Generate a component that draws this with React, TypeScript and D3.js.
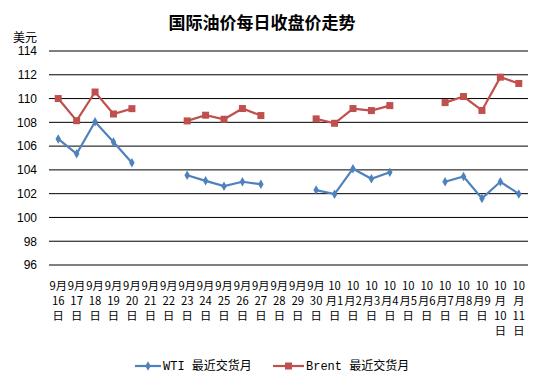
import React from 'react';
import * as d3 from 'd3';

// categories (month, day)
const months = [9, 9, 9, 9, 9, 9, 9, 9, 9, 9, 9, 9, 9, 9, 9, 10, 10, 10, 10, 10, 10, 10, 10, 10, 10, 10];
const days = [16, 17, 18, 19, 20, 21, 22, 23, 24, 25, 26, 27, 28, 29, 30, 1, 2, 3, 4, 5, 6, 7, 8, 9, 10, 11];

// closing prices, null = no trading
const wti = [106.6, 105.35, 108.05, 106.35, 104.6, null, null, 103.55, 103.08, 102.63, 103.0, 102.8, null, null,
  102.3, 101.96, 104.1, 103.25, 103.8, null, null, 103.0, 103.45, 101.6, 103.0, 101.98];
const brent = [110.0, 108.14, 110.55, 108.7, 109.15, null, null, 108.12, 108.6, 108.26, 109.16, 108.57, null, null,
  108.29, 107.92, 109.16, 108.99, 109.41, null, null, 109.66, 110.17, 109.0, 111.8, 111.27];

const yTicks = [96, 98, 100, 102, 104, 106, 108, 110, 112, 114];

const W = 544;
const H = 384;
const plot = { left: 49, right: 528, top: 51, bottom: 265 };

const BLUE = '#4F81BD';
const RED = '#C0504D';

const labelLines = (m: number, d: number) => {
  if (m === 9) return [`${m}月`, `${d}`, '日'];
  if (d < 10) return [`${m}`, `月${d}`, '日'];
  return [`${m}`, '月', `${d}`, '日'];
};

export default function App() {
  const idx = days.map((_, i) => i);
  const x = d3.scaleBand<number>().domain(idx).range([plot.left, plot.right]).paddingInner(0).paddingOuter(0);
  const y = d3.scaleLinear().domain([96, 114]).range([plot.bottom, plot.top]);
  const cx = (i: number) => (x(i) as number) + x.bandwidth() / 2;

  const line = d3.line<number | null>()
    .defined(v => v != null)
    .x((_, i) => cx(i))
    .y(v => y(v as number));

  const diamond = d3.symbol().type(d3.symbolDiamond).size(26)() as string;

  return (
    <svg width={W} height={H} style={{ position: 'absolute', left: 0, top: 0, background: '#fff' }}
      fontFamily="Arial, 'Liberation Sans', sans-serif">
      <text x={262} y={29} textAnchor="middle" fontSize={17} fontWeight="bold"
        fontFamily="'Noto Sans CJK SC', sans-serif">国际油价每日收盘价走势</text>
      <text x={13} y={42} fontSize={12} fontFamily="'Noto Sans CJK SC', sans-serif">美元</text>

      {yTicks.map(t => (
        <g key={t}>
          <line x1={plot.left} x2={plot.right} y1={y(t)} y2={y(t)} stroke="#000" strokeWidth={1} />
          <text x={37} y={y(t)} dy="0.36em" textAnchor="end" fontSize={12}>{t}</text>
        </g>
      ))}

      {idx.map(i => (
        <text key={i} x={cx(i)} textAnchor="middle" fontSize={11.3} fontFamily="'Noto Sans CJK SC', sans-serif">
          {labelLines(months[i], days[i]).map((s, k) => (
            <tspan key={k} x={cx(i)} y={290 + k * 15}>{s}</tspan>
          ))}
        </text>
      ))}

      <path d={line(wti) || ''} fill="none" stroke={BLUE} strokeWidth={2.2} />
      {wti.map((v, i) => v == null ? null : (
        <path key={i} d={diamond} transform={`translate(${cx(i)},${y(v)})`} fill={BLUE} />
      ))}

      <path d={line(brent) || ''} fill="none" stroke={RED} strokeWidth={2.2} />
      {brent.map((v, i) => v == null ? null : (
        <rect key={i} x={cx(i) - 3.5} y={y(v) - 3.5} width={7} height={7} fill={RED} />
      ))}

      {/* legend */}
      <g fontSize={12} fontFamily="'Liberation Mono', 'Noto Sans CJK SC', monospace">
        <line x1={135} x2={161} y1={366} y2={366} stroke={BLUE} strokeWidth={2.2} />
        <path d={diamond} transform="translate(148,366)" fill={BLUE} />
        <text x={163} y={370}>WTI 最近交货月</text>
        <line x1={273} x2={304} y1={366} y2={366} stroke={RED} strokeWidth={2.2} />
        <rect x={285} y={362.5} width={7} height={7} fill={RED} />
        <text x={306} y={370}>Brent 最近交货月</text>
      </g>
    </svg>
  );
}
